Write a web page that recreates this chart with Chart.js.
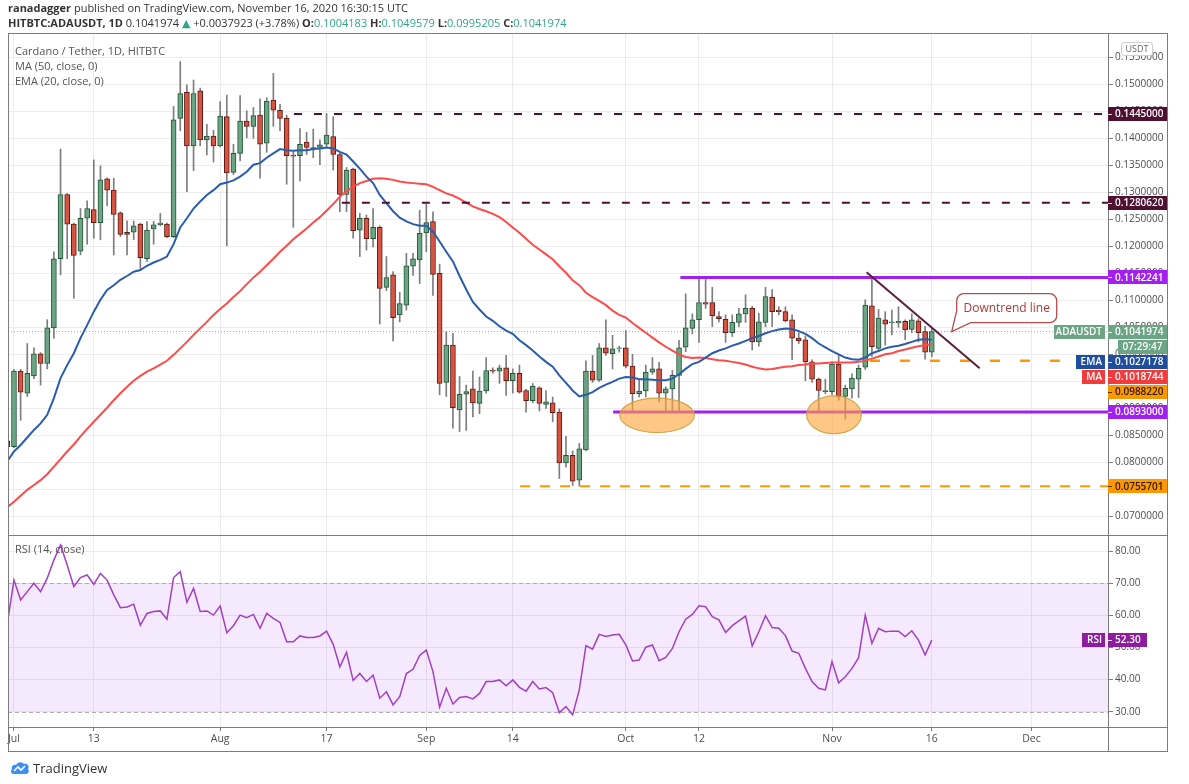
<!DOCTYPE html>
<html>
<head>
<meta charset="utf-8">
<script src="https://cdn.jsdelivr.net/npm/chart.js@4.4.1/dist/chart.umd.min.js"></script>
<style>
  html, body { margin:0; padding:0; background:#fff; }
  body { width:1189px; height:784px; overflow:hidden; position:relative; font-family:"Open Sans", "DejaVu Sans", sans-serif; color:#333; }
  #c { position:absolute; left:0; top:0; }
  .t { position:absolute; white-space:nowrap; }
  #h1 { left:8px; top:0px; font-size:11px; color:#333; }
  #h2 { left:8px; top:15px; font-size:11px; color:#333; }
  .up { color:#2fa58a; }
  #lg { left:15px; top:43px; font-size:11px; color:#555; line-height:15px; }
  #rsil { left:15px; top:541px; font-size:11px; color:#555; }
  #usdt { left:1121px; top:42px; width:30px; height:12px; border:1px solid #cfcfcf; border-radius:3px; background:#fff; font-size:9px; color:#666; text-align:center; line-height:12px; }
  #tv { left:10px; top:759px; font-size:13px; color:#333; display:flex; align-items:center; gap:3px; }
</style>
</head>
<body>
<canvas id="c" width="1189" height="784"></canvas>
<div class="t" id="h1"><b>ranadagger</b> published on TradingView.com, November 16, 2020 16:30:15 UTC</div>
<div class="t" id="h2"><b>HITBTC:ADAUSDT, 1D</b> 0.1041974 <span class="up">▲</span> +0.0037923 (+3.78%) <b>O:</b><span class="up">0.1004183</span> <b>H:</b><span class="up">0.1049579</span> <b>L:</b><span class="up">0.0995205</span> <b>C:</b><span class="up">0.1041974</span></div>
<div class="t" id="lg">Cardano / Tether, 1D, HITBTC<br>MA (50, close, 0)<br>EMA (20, close, 0)</div>
<div class="t" id="rsil">RSI (14, close)</div>
<div class="t" id="usdt">USDT</div>
<div class="t" id="tv"><svg width="20" height="14" viewBox="0 0 20 14"><path d="M4 13 C1 13 0 10 2 8 C1 5 4 3 6 4 C7 1 12 0 14 3 C17 2 20 5 18 8 C20 10 18 13 16 13 Z" fill="#3b8ff0"/><path d="M4 10 L8 6 L11 9 L15 5" stroke="#fff" stroke-width="1.6" fill="none"/></svg><span>TradingView</span></div>

<script>
// ---------------- data (Jun 30 .. Nov 16, 2020; x = days from Jul 1) ----------------
const open = [
  .0840,.0829,.0969,.0928,.0960,.1001,.0983,.1049,.1177,.1296,
  .1241,.1191,.1252,.1268,.1244,.1325,.1304,.1262,.1226,.1226,
  .1241,.1177,.1232,.1240,.1241,.1218,.1437,.1485,.1386,.1488,
  .1397,.1404,.1386,.1440,.1337,.1372,.1432,.1422,.1443,.1391,
  .1471,.1452,.1437,.1369,.1368,.1393,.1380,.1383,.1389,.1403,
  .1370,.1296,.1343,.1230,.1252,.1214,.1235,.1124,.1147,.1073,
  .1091,.1163,.1175,.1225,.1246,.1150,.0948,.1017,.0897,.0926,
  .0936,.0909,.0932,.0971,.0969,.0975,.0951,.0965,.0933,.0914,
  .0938,.0907,.0910,.0893,.0799,.0813,.0767,.0823,.0969,.0952,
  .1012,.1001,.1011,.1012,.0978,.0927,.0932,.0967,.0973,.0928,
  .0936,.0961,.1013,.1048,.1064,.1096,.1096,.1070,.1065,.1040,
  .1059,.1075,.1085,.1023,.1059,.1106,.1082,.1079,.1064,.1030,
  .1027,.0986,.0954,.0931,.0931,.0982,.0922,.0936,.0954,.0976,
  .1090,.1011,.1064,.1058,.1058,.1061,.1046,.1062,.1042,.1004183
];
const high = [
  .0845,.0972,.0972,.1020,.1012,.1003,.1064,.1190,.1380,.1298,
  .1243,.1270,.1284,.1360,.1349,.1327,.1326,.1264,.1247,.1247,
  .1243,.1246,.1246,.1261,.1243,.1459,.1542,.1499,.1508,.1493,
  .1426,.1415,.1468,.1480,.1389,.1479,.1451,.1457,.1473,.1475,
  .1520,.1463,.1443,.1375,.1418,.1411,.1417,.1397,.1446,.1440,
  .1373,.1346,.1345,.1261,.1258,.1270,.1238,.1181,.1153,.1115,
  .1187,.1187,.1267,.1278,.1264,.1167,.1042,.1039,.0959,.0943,
  .0969,.0958,.0994,.0975,.0980,.0998,.0973,.0980,.0935,.0946,
  .0940,.0933,.0921,.0899,.0848,.0821,.0835,.0988,.0998,.1020,
  .1064,.1035,.1015,.1044,.1000,.0952,.0980,.0994,.0985,.0940,
  .0970,.1026,.1112,.1075,.1139,.1143,.1124,.1079,.1073,.1073,
  .1085,.1110,.1089,.1076,.1124,.1120,.1088,.1088,.1073,.1040,
  .1034,.0990,.0956,.0954,.0986,.0999,.0943,.0964,.0980,.1101,
  .1139,.1083,.1079,.1082,.1088,.1064,.1075,.1066,.1052,.1049579
];
const low = [
  .0825,.0827,.0878,.0922,.0955,.0943,.0973,.1030,.1147,.1177,
  .1104,.1184,.1204,.1215,.1212,.1275,.1184,.1218,.1184,.1212,
  .1159,.1172,.1204,.1238,.1216,.1216,.1414,.1301,.1340,.1386,
  .1369,.1356,.1384,.1201,.1333,.1358,.1401,.1400,.1326,.1374,
  .1422,.1414,.1315,.1235,.1321,.1370,.1364,.1351,.1385,.1341,
  .1264,.1264,.1215,.1181,.1193,.1199,.1056,.1118,.1025,.1060,
  .1082,.1146,.1131,.1190,.1109,.0925,.0922,.0863,.0857,.0859,
  .0884,.0890,.0928,.0965,.0946,.0924,.0928,.0928,.0893,.0910,
  .0895,.0900,.0875,.0770,.0791,.0757,.0756,.0821,.0948,.0950,
  .0998,.0973,.1004,.0975,.0896,.0921,.0921,.0963,.0912,.0893,
  .0893,.0893,.1005,.1038,.1022,.1085,.1051,.1060,.1022,.1033,
  .1051,.1059,.1008,.1015,.1051,.1051,.1073,.1060,.0990,.1020,
  .0951,.0948,.0894,.0927,.0925,.0915,.0880,.0919,.0920,.0972,
  .0996,.1005,.1017,.1036,.1050,.1027,.1040,.1023,.0991,.0995205
];
const close = [
  .0829,.0969,.0930,.0965,.1001,.0983,.1049,.1177,.1296,.1241,
  .1183,.1252,.1270,.1244,.1323,.1304,.1259,.1222,.1222,.1238,
  .1179,.1230,.1240,.1243,.1218,.1434,.1483,.1386,.1483,.1397,
  .1404,.1386,.1441,.1336,.1372,.1432,.1422,.1442,.1389,.1469,
  .1452,.1437,.1368,.1367,.1389,.1383,.1383,.1388,.1406,.1370,
  .1296,.1341,.1229,.1252,.1214,.1235,.1122,.1142,.1068,.1094,
  .1164,.1177,.1224,.1244,.1148,.0946,.1017,.0901,.0926,.0931,
  .0910,.0932,.0970,.0969,.0975,.0951,.0965,.0930,.0914,.0941,
  .0909,.0912,.0892,.0799,.0813,.0765,.0825,.0969,.0952,.1012,
  .1002,.1010,.1012,.0978,.0927,.0932,.0967,.0973,.0928,.0936,
  .0961,.1012,.1049,.1064,.1096,.1093,.1071,.1066,.1040,.1059,
  .1075,.1085,.1023,.1060,.1107,.1079,.1079,.1062,.1030,.1025,
  .0986,.0954,.0933,.0933,.0982,.0922,.0937,.0956,.0974,.1091,
  .1014,.1067,.1056,.1060,.1061,.1045,.1064,.1040,.1004051,.1041974
];
const ema20 = [
  .0802,.0820,.0832,.0846,.0860,.0872,.0888,.0919,.0956,.0980,
  .1002,.1030,.1054,.1079,.1101,.1119,.1128,.1138,.1145,.1153,
  .1156,.1164,.1170,.1175,.1181,.1204,.1235,.1252,.1270,.1283,
  .1295,.1304,.1315,.1318,.1322,.1329,.1338,.1351,.1354,.1364,
  .1372,.1380,.1378,.1377,.1378,.1378,.1380,.1381,.1383,.1381,
  .1375,.1370,.1357,.1344,.1329,.1317,.1295,.1280,.1265,.1253,
  .1246,.1241,.1238,.1238,.1227,.1209,.1190,.1172,.1145,.1120,
  .1097,.1083,.1070,.1062,.1052,.1044,.1038,.1026,.1017,.1007,
  .0996,.0986,.0977,.0961,.0947,.0933,.0922,.0925,.0930,.0938,
  .0944,.0949,.0955,.0958,.0957,.0954,.0954,.0953,.0952,.0952,
  .0955,.0963,.0973,.0982,.0986,.0994,.1002,.1007,.1011,.1016,
  .1020,.1025,.1030,.1034,.1039,.1043,.1046,.1048,.1047,.1043,
  .1038,.1030,.1020,.1013,.1006,.1000,.0994,.0991,.0990,.0994,
  .1002,.1006,.1011,.1014,.1016,.1019,.1023,.1027,.1028,.1027178
];
const ma50 = [
  .0717,.0727,.0738,.0749,.0758,.0767,.0778,.0792,.0806,.0820,
  .0833,.0848,.0862,.0875,.0888,.0901,.0915,.0928,.0940,.0951,
  .0960,.0968,.0974,.0981,.0988,.0999,.1011,.1023,.1036,.1048,
  .1060,.1073,.1084,.1094,.1106,.1117,.1130,.1142,.1153,.1165,
  .1177,.1190,.1201,.1213,.1223,.1233,.1244,.1254,.1266,.1278,
  .1292,.1302,.1310,.1317,.1321,.1325,.1326,.1325,.1323,.1320,
  .1318,.1317,.1316,.1315,.1310,.1304,.1298,.1294,.1288,.1281,
  .1274,.1269,.1265,.1260,.1254,.1245,.1235,.1225,.1214,.1203,
  .1194,.1185,.1176,.1163,.1151,.1137,.1128,.1114,.1106,.1099,
  .1091,.1081,.1073,.1068,.1058,.1049,.1040,.1031,.1022,.1014,
  .1007,.1000,.0995,.0993,.0994,.0993,.0991,.0989,.0988,.0986,
  .0984,.0981,.0977,.0974,.0972,.0973,.0975,.0977,.0978,.0980,
  .0981,.0983,.0983,.0984,.0985,.0985,.0985,.0985,.0986,.0988,
  .0992,.0996,.1000,.1002,.1006,.1009,.1012,.1015,.1017,.1018744
];
const rsi14 = [
  57.5,71.0,64.8,67.4,70.0,67.4,71.6,77.3,81.9,75.7,
  69.0,71.8,72.6,69.7,73.1,71.0,66.4,62.4,62.6,63.5,
  57.0,60.6,61.2,61.4,58.8,71.8,73.6,64.1,68.4,61.2,
  61.4,60.1,62.9,54.6,56.8,60.1,59.3,60.3,56.0,60.6,
  59.1,57.8,51.8,51.8,53.6,53.1,53.1,53.6,55.1,51.0,
  44.0,48.5,39.7,41.9,39.4,41.4,34.2,36.2,32.1,34.7,
  41.9,43.2,47.5,49.2,42.5,31.4,37.3,32.4,34.4,34.7,
  34.0,35.7,39.4,39.4,39.9,38.1,39.9,37.6,36.4,39.4,
  37.1,37.5,35.9,29.7,31.6,29.0,36.8,50.6,49.5,54.1,
  53.4,53.9,54.1,50.8,45.8,46.1,50.1,50.8,45.9,46.9,
  49.7,54.9,58.8,60.3,63.0,62.7,59.6,58.6,54.7,56.8,
  58.3,59.8,50.5,54.9,59.9,56.2,56.0,53.7,48.9,48.2,
  43.5,39.4,37.3,36.8,45.6,39.0,40.9,43.5,46.8,60.1,
  51.3,56.0,54.9,55.1,55.1,53.4,55.2,52.3,47.7,52.3
];
const tickDays   = [0, 12, 31, 47, 62, 75, 92, 103, 123, 138, 153];
const tickLabels = ['Jul','13','Aug','17','Sep','14','Oct','12','Nov','16','Dec'];
const priceTicks = [0.070,0.075,0.080,0.085,0.090,0.095,0.100,0.105,0.110,0.115,0.120,0.125,0.130,0.135,0.140,0.145,0.150,0.155];
const rsiTicks   = [30,40,50,60,70,80];
const levelValues = [0.1445, 0.128062, 0.1142241, 0.0893, 0.098822, 0.0755701];
const levelStartDays = [42.1, 49.3, 100.2, 90.1, 128.7, 76.1];
const trendDays = [128.2, 145.2];
const trendPrices = [0.1152, 0.0974];
const zoneDays = [96.7, 123.3];
const zonePrices = [0.0887, 0.0888];
const zoneHalfDays = [5.6, 4.1];
const zoneHalfPrices = [0.0032, 0.0035];
const calloutDay = 141.0, calloutPrice = 0.1042;
const lastPrice = 0.1041974, lastEma = 0.1027178, lastMa = 0.1018744, lastRsi = 52.30;
const countdown = '07:29:47';

// ---------------- build ----------------
const xs = open.map((_, i) => i - 1);
const X_MIN = -0.9, X_MAX = 164.5;
const isUp = i => close[i] >= open[i];
const FONT = '"Open Sans", "DejaVu Sans", sans-serif';

const levelStyles = [
  {c:'#4e1132', w:2, d:[8,12]},
  {c:'#4e1132', w:2, d:[8,12]},
  {c:'#a21ff0', w:3, d:[]},
  {c:'#a21ff0', w:3, d:[]},
  {c:'#ff9800', w:2.5, d:[10,20]},
  {c:'#ff9800', w:2, d:[10,10]}
];

const datasets = [];
levelValues.forEach((v, k) => {
  datasets.push({type:'line', data:[{x:levelStartDays[k], y:v},{x:X_MAX, y:v}], borderColor:levelStyles[k].c,
    borderWidth:levelStyles[k].w, borderDash:levelStyles[k].d, pointRadius:0, yAxisID:'y', order:20});
});
datasets.push({type:'line', data:[{x:X_MIN,y:lastPrice},{x:X_MAX,y:lastPrice}], borderColor:'#7fb597', borderWidth:1,
  borderDash:[1,2], pointRadius:0, yAxisID:'y', order:60});
datasets.push({type:'bar', data: xs.map((x,i)=>({x, y:[low[i], high[i]]})), backgroundColor:'#7d7d80',
  grouped:false, barThickness:1, maxBarThickness:1, yAxisID:'y', order:50});
datasets.push({type:'bar', data: xs.map((x,i)=>({x, y:[open[i], close[i]]})),
  backgroundColor: c => isUp(c.dataIndex) ? '#6ba583' : '#d75442',
  borderColor: c => isUp(c.dataIndex) ? '#225437' : '#5b1a13',
  borderWidth:1, borderSkipped:false, grouped:false, barThickness:5, maxBarThickness:5, yAxisID:'y', order:40});
datasets.push({type:'line', data: xs.map((x,i)=>({x, y:ma50[i]})), borderColor:'#ff4a4a', borderWidth:2, pointRadius:0, tension:0, yAxisID:'y', order:30});
datasets.push({type:'line', data: xs.map((x,i)=>({x, y:ema20[i]})), borderColor:'#2a5cae', borderWidth:2, pointRadius:0, tension:0, yAxisID:'y', order:29});
datasets.push({type:'line', data: trendDays.map((d,k)=>({x:d, y:trendPrices[k]})), borderColor:'#5a1d3c', borderWidth:2, pointRadius:0, yAxisID:'y', order:10});
datasets.push({type:'line', data: xs.map((x,i)=>({x, y:rsi14[i]})), borderColor:'#a33fc2', borderWidth:1.5, pointRadius:0, tension:0, yAxisID:'yR', order:10});

function tag(ctx, x1, x2, yc, bg, fg, text, align) {
  ctx.fillStyle = bg;
  ctx.fillRect(x1, Math.round(yc - 7), x2 - x1, 14);
  ctx.fillStyle = fg;
  ctx.font = '600 10px ' + FONT;
  ctx.textBaseline = 'middle';
  if (align === 'right') { ctx.textAlign = 'right'; ctx.fillText(text, x2 - 3, yc + 0.5); }
  else if (align === 'center') { ctx.textAlign = 'center'; ctx.fillText(text, (x1 + x2) / 2, yc + 0.5); }
  else { ctx.textAlign = 'left'; ctx.fillText(text, x1 + 7, yc + 0.5); }
}
function valueTag(ctx, yc, bg, fg, text, x2) {
  tag(ctx, 1108, x2 || 1167, yc, bg, fg, text, 'left');
  ctx.strokeStyle = fg; ctx.globalAlpha = 0.8; ctx.lineWidth = 1;
  ctx.beginPath(); ctx.moveTo(1108, Math.round(yc) + 0.5); ctx.lineTo(1112, Math.round(yc) + 0.5); ctx.stroke();
  ctx.globalAlpha = 1;
}

const decor = {
  id: 'decor',
  beforeDatasetsDraw(chart) {
    const {ctx, chartArea: a, scales: {yR}} = chart;
    const t = yR.getPixelForValue(70), b = yR.getPixelForValue(30);
    ctx.save();
    ctx.fillStyle = 'rgba(160, 60, 240, 0.11)';
    ctx.fillRect(a.left, t, a.right - a.left, b - t);
    ctx.strokeStyle = '#b2a8b6'; ctx.lineWidth = 1; ctx.setLineDash([4, 3]);
    [t, b].forEach(yy => { ctx.beginPath(); ctx.moveTo(a.left, Math.round(yy) + 0.5); ctx.lineTo(a.right, Math.round(yy) + 0.5); ctx.stroke(); });
    ctx.restore();
  },
  afterDatasetsDraw(chart) {
    const {ctx, scales: {x, y}} = chart;
    ctx.save();
    zoneDays.forEach((d, k) => {
      const cx = x.getPixelForValue(d), cy = y.getPixelForValue(zonePrices[k]);
      const rx = x.getPixelForValue(d + zoneHalfDays[k]) - cx;
      const ry = cy - y.getPixelForValue(zonePrices[k] + zoneHalfPrices[k]);
      ctx.beginPath(); ctx.ellipse(cx, cy, rx, ry, 0, 0, Math.PI * 2);
      ctx.fillStyle = 'rgba(255, 164, 60, 0.62)'; ctx.fill();
      ctx.strokeStyle = 'rgba(205, 160, 60, 0.9)'; ctx.lineWidth = 1.2; ctx.stroke();
    });
    // callout
    const tx = x.getPixelForValue(calloutDay), ty = y.getPixelForValue(calloutPrice);
    const bx = tx + 5, by = ty - 38, bw = 100, bh = 29, r = 7;
    ctx.beginPath();
    ctx.moveTo(bx + r, by); ctx.lineTo(bx + bw - r, by); ctx.arcTo(bx + bw, by, bx + bw, by + r, r);
    ctx.lineTo(bx + bw, by + bh - r); ctx.arcTo(bx + bw, by + bh, bx + bw - r, by + bh, r);
    ctx.lineTo(bx + 14, by + bh); ctx.lineTo(tx, ty); ctx.lineTo(bx, by + 17);
    ctx.lineTo(bx, by + r); ctx.arcTo(bx, by, bx + r, by, r); ctx.closePath();
    ctx.fillStyle = '#ffffff'; ctx.fill();
    ctx.strokeStyle = '#b54d4d'; ctx.lineWidth = 1.3; ctx.stroke();
    ctx.fillStyle = '#b23a3a'; ctx.font = '12px ' + FONT; ctx.textAlign = 'center'; ctx.textBaseline = 'middle';
    ctx.fillText('Downtrend line', bx + bw / 2, by + bh / 2 + 0.5);
    ctx.restore();
  },
  afterDraw(chart) {
    const {ctx, chartArea: a, scales: {y, yR}} = chart;
    ctx.save();
    // frame & separators
    ctx.strokeStyle = '#7c7c7c'; ctx.lineWidth = 1;
    ctx.strokeRect(8.5, 33.5, 1159, 718);
    const sep = Math.round(yR.top) + 0.5;
    ctx.beginPath(); ctx.moveTo(8, sep); ctx.lineTo(1168, sep); ctx.stroke();
    ctx.beginPath(); ctx.moveTo(8, Math.round(a.bottom) + 0.5); ctx.lineTo(1168, Math.round(a.bottom) + 0.5); ctx.stroke();
    ctx.beginPath(); ctx.moveTo(Math.round(a.right) + 0.5, 33); ctx.lineTo(Math.round(a.right) + 0.5, 752); ctx.stroke();
    // fixed level tags
    valueTag(ctx, y.getPixelForValue(levelValues[0]), '#4e1132', '#ffffff', levelValues[0].toFixed(7));
    valueTag(ctx, y.getPixelForValue(levelValues[1]), '#4e1132', '#ffffff', levelValues[1].toFixed(7));
    valueTag(ctx, y.getPixelForValue(levelValues[2]), '#a21ff0', '#ffffff', levelValues[2].toFixed(7));
    valueTag(ctx, y.getPixelForValue(levelValues[3]), '#a21ff0', '#ffffff', levelValues[3].toFixed(7));
    valueTag(ctx, y.getPixelForValue(levelValues[5]), '#ff9800', '#2b1a00', levelValues[5].toFixed(7));
    // stacked tags (pushed down to avoid overlap)
    let yc = y.getPixelForValue(lastPrice);
    tag(ctx, 1054, 1105, yc, '#6ba583', '#ffffff', 'ADAUSDT', 'right');
    valueTag(ctx, yc, '#6ba583', '#ffffff', lastPrice.toFixed(7));
    yc += 15;
    tag(ctx, 1118, 1167, yc, '#6ba583', '#ffffff', countdown, 'center');
    yc = Math.max(y.getPixelForValue(lastEma), yc + 15);
    tag(ctx, 1076, 1105, yc, '#1f4e9e', '#ffffff', 'EMA', 'right');
    valueTag(ctx, yc, '#1f4e9e', '#ffffff', lastEma.toFixed(7));
    yc = Math.max(y.getPixelForValue(lastMa), yc + 15);
    tag(ctx, 1082, 1105, yc, '#f23c3c', '#ffffff', 'MA', 'right');
    valueTag(ctx, yc, '#f23c3c', '#ffffff', lastMa.toFixed(7));
    yc = Math.max(y.getPixelForValue(levelValues[4]), yc + 15);
    valueTag(ctx, yc, '#ff9800', '#2b1a00', levelValues[4].toFixed(7));
    // RSI tag
    const ry = yR.getPixelForValue(lastRsi);
    tag(ctx, 1082, 1105, ry, '#8e1c9e', '#ffffff', 'RSI', 'right');
    valueTag(ctx, ry, '#8e1c9e', '#ffffff', lastRsi.toFixed(2), 1147);
    ctx.restore();
  }
};

const gridColor = '#ececec';
new Chart(document.getElementById('c'), {
  type: 'bar',
  data: { datasets },
  options: {
    responsive: false, animation: false, events: [],
    layout: { padding: { left: 8, top: 33, right: 21, bottom: 32 } },
    plugins: { legend: { display: false }, tooltip: { enabled: false } },
    scales: {
      x: {
        type: 'linear', position: 'bottom', min: X_MIN, max: X_MAX, offset: false,
        afterBuildTicks: s => { s.ticks = tickDays.map(v => ({ value: v })); },
        afterFit: s => { s.height = 25; },
        ticks: { callback: (v, i) => tickLabels[i], color: '#4d4d4d', font: { size: 10.5, family: FONT }, maxRotation: 0, autoSkip: false, padding: 2 },
        grid: { color: gridColor, tickLength: 4, tickColor: '#7c7c7c', drawTicks: true, offset: false },
        border: { color: '#7c7c7c' }
      },
      y: {
        type: 'linear', position: 'right', stack: 'panes', stackWeight: 502,
        min: 0.06654, max: 0.1595,
        afterBuildTicks: s => { s.ticks = priceTicks.map(v => ({ value: v })); },
        afterFit: s => { s.width = 60; },
        ticks: { callback: v => v.toFixed(7), color: '#4d4d4d', font: { size: 10, family: FONT }, padding: 2 },
        grid: { color: gridColor, tickLength: 5, tickColor: '#7c7c7c' },
        border: { color: '#7c7c7c' }
      },
      yR: {
        type: 'linear', position: 'right', stack: 'panes', stackWeight: 192,
        min: 25.23, max: 85.05,
        afterBuildTicks: s => { s.ticks = rsiTicks.map(v => ({ value: v })); },
        afterFit: s => { s.width = 60; },
        ticks: { callback: v => v.toFixed(2), color: '#4d4d4d', font: { size: 10, family: FONT }, padding: 2 },
        grid: { color: gridColor, tickLength: 5, tickColor: '#7c7c7c' },
        border: { color: '#7c7c7c' }
      }
    }
  },
  plugins: [decor]
});
</script>
</body>
</html>
